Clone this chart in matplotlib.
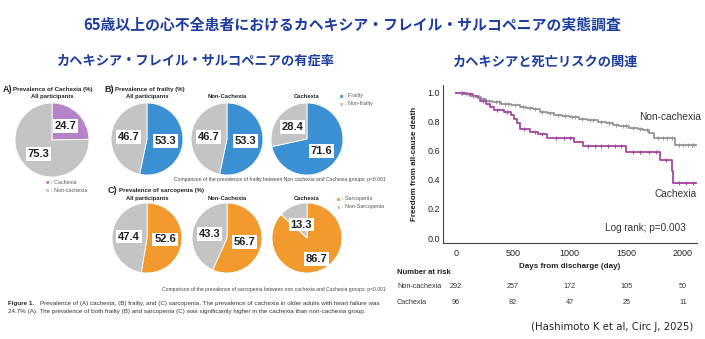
import numpy as np
import matplotlib

matplotlib.use("Agg")
import matplotlib.pyplot as plt
from matplotlib.transforms import blended_transform_factory

W, H = 705, 339

TITLE = "65歳以上の心不全患者におけるカヘキシア・フレイル・サルコペニアの実態調査"
SUB_LEFT = "カヘキシア・フレイル・サルコペニアの有症率"
SUB_RIGHT = "カヘキシアと死亡リスクの関連"
CITATION = "(Hashimoto K et al, Circ J, 2025)"

# pie data (%)
cachexia_share = [24.7, 75.3]
group_names = ["All participants", "Non-Cachexia", "Cachexia"]
frailty = [53.3, 53.3, 71.6]
sarcopenia = [52.6, 56.7, 86.7]

# Kaplan-Meier curves (day, survival)
non_t = [0, 60, 120, 170, 220, 260, 320, 400, 480, 560, 620, 680, 740, 800, 860,
         930, 1000, 1080, 1150, 1250, 1320, 1380, 1440, 1520, 1600, 1650, 1700,
         1740, 1930, 2110]
non_s = [1.0, 0.99, 0.98, 0.97, 0.955, 0.945, 0.935, 0.925, 0.915, 0.905, 0.895,
         0.885, 0.87, 0.86, 0.85, 0.84, 0.83, 0.82, 0.81, 0.80, 0.79, 0.78, 0.77,
         0.76, 0.75, 0.74, 0.72, 0.69, 0.64, 0.64]
cax_t = [0, 100, 150, 190, 215, 260, 300, 330, 420, 480, 510, 540, 565, 655, 720,
         800, 1040, 1120, 1500, 1800, 1900, 1915, 2110]
cax_s = [1.0, 0.99, 0.98, 0.965, 0.94, 0.92, 0.90, 0.88, 0.865, 0.845, 0.82, 0.79,
         0.75, 0.73, 0.715, 0.69, 0.66, 0.63, 0.595, 0.535, 0.46, 0.38, 0.38]
non_cens = [40, 90, 150, 200, 250, 290, 350, 380, 430, 460, 520, 590, 650, 700, 760,
            830, 900, 960, 1020, 1050, 1110, 1180, 1210, 1280, 1350, 1410, 1470, 1500,
            1560, 1620, 1680, 1780, 1820, 1860, 1900, 1960, 2000, 2040, 2080, 2100]
cax_cens = [50, 120, 240, 360, 450, 600, 700, 760, 880, 950, 1000, 1160, 1220, 1280,
            1340, 1400, 1450, 1560, 1620, 1700, 1760, 1850, 1960, 2030, 2090]

risk_days = [0, 500, 1000, 1500, 2000]
risk_non = [292, 257, 172, 105, 50]
risk_cax = [96, 82, 47, 25, 11]

BLUE_TXT = "#1d3d9e"
GRAY = "#c4c4c4"
PURPLE = "#b584c8"
FR_BLUE = "#3b8fd3"
ORANGE = "#f29a2e"
KM_GRAY = "#959595"
KM_PURPLE = "#a5479f"

plt.rcParams["font.family"] = ["Liberation Sans", "DejaVu Sans"]
JP = ["Noto Sans CJK JP", "DejaVu Sans"]

fig = plt.figure(figsize=(W / 100, H / 100), dpi=100)


def fy(y):
    return 1 - y / H


def t(x, y, s, **kw):
    fig.text(x / W, fy(y), s, **kw)


def pie_at(cx, cy, r, vals, colors, dist=0.52):
    ax = fig.add_axes([(cx - r) / W, 1 - (cy + r) / H, 2 * r / W, 2 * r / H])
    _, _, autos = ax.pie(vals, colors=colors, startangle=90, counterclock=False,
                         autopct=lambda p: f"{p:.1f}", pctdistance=dist,
                         wedgeprops=dict(edgecolor="white", linewidth=0.6),
                         textprops=dict(fontsize=8, fontweight="bold", color="#222222"))
    for a in autos:
        a.set_bbox(dict(facecolor="white", edgecolor="none", pad=1.3))
    ax.set_xlim(-1, 1)
    ax.set_ylim(-1, 1)
    return autos


# titles
t(352, 25, TITLE, family=JP, fontsize=10.7, fontweight="bold", color=BLUE_TXT,
  ha="center", va="center")
t(196, 61, SUB_LEFT, family=JP, fontsize=9.5, fontweight="bold", color=BLUE_TXT,
  ha="center", va="center")
t(546, 62, SUB_RIGHT, family=JP, fontsize=9.5, fontweight="bold", color=BLUE_TXT,
  ha="center", va="center")

# ---- left panel: prevalence pies ----
hdr = dict(fontweight="bold", color="#222222", va="center")
t(3, 89, "A)", fontsize=6.5, **hdr)
t(13, 89, "Prevalence of Cachexia (%)", fontsize=4.4, **hdr)
t(52, 97, "All participants", fontsize=4.2, ha="center", **hdr)
pie_at(52, 140, 37, cachexia_share, [PURPLE, GRAY])
t(46, 182, "■", fontsize=4, color=PURPLE, va="center")
t(51, 182, ": Cachexia", fontsize=3.9, color="#555555", va="center")
t(46, 190, "■", fontsize=4, color=GRAY, va="center")
t(51, 190, ": Non-cachexia", fontsize=3.9, color="#555555", va="center")

pie_x = [147, 227, 307]
t(104, 89, "B)", fontsize=6.5, **hdr)
t(115, 89, "Prevalence of frailty (%)", fontsize=4.4, **hdr)
for cx, name, v in zip(pie_x, group_names, frailty):
    t(cx, 97, name, fontsize=4.2, ha="center", **hdr)
    pie_at(cx, 139, 36, [v, round(100 - v, 1)], [FR_BLUE, GRAY])
t(340, 96, "■", fontsize=4, color=FR_BLUE, va="center")
t(345, 96, ": Frailty", fontsize=3.9, color="#555555", va="center")
t(340, 104, "■", fontsize=4, color=GRAY, va="center")
t(345, 104, ": Non-frailty", fontsize=3.9, color="#555555", va="center")
t(386, 179, "Comparison of the prevalence of frailty between Non cachexia and Cachexia groups: p<0.001",
  fontsize=3.65, color="#444444", ha="right", va="center")

t(108, 191, "C)", fontsize=6.5, **hdr)
t(119, 191, "Prevalence of sarcopenia (%)", fontsize=4.4, **hdr)
for i, (cx, name, v) in enumerate(zip(pie_x, group_names, sarcopenia)):
    t(cx, 199, name, fontsize=4.2, ha="center", **hdr)
    autos = pie_at(cx, 238, 35, [v, round(100 - v, 1)], [ORANGE, GRAY])
    if i == 2:
        x0, y0 = autos[0].get_position()
        autos[0].set_position((x0 * 1.25, y0 * 1.25))
        x1, y1 = autos[1].get_position()
        autos[1].set_position((x1 * 0.8, y1 * 0.8))
t(337, 199, "■", fontsize=4, color=ORANGE, va="center")
t(342, 199, ": Sarcopenia", fontsize=3.9, color="#555555", va="center")
t(337, 207, "■", fontsize=4, color=GRAY, va="center")
t(342, 207, ": Non-Sarcopenia", fontsize=3.9, color="#555555", va="center")
t(386, 290, "Comparison of the prevalence of sarcopenia between non cachexia and Cachexia groups: p<0.001",
  fontsize=3.65, color="#444444", ha="right", va="center")

t(8, 303, "Figure 1.", fontsize=4.5, fontweight="bold", color="#222222", va="center")
t(40, 303, "Prevalence of (A) cachexia, (B) frailty, and (C) sarcopenia. The prevalence of cachexia "
  "in older adults with heart failure was", fontsize=4.5, color="#333333", va="center")
t(8, 312, "24.7% (A). The prevalence of both frailty (B) and sarcopenia (C) was significantly higher "
  "in the cachexia than non-cachexia group.", fontsize=4.5, color="#333333", va="center")

# ---- right panel: Kaplan-Meier ----
ax = fig.add_axes([443 / W, 1 - 243 / H, 254 / W, 158 / H])
ax.step(non_t, non_s, where="post", color=KM_GRAY, lw=1.3)
ax.step(cax_t, cax_s, where="post", color=KM_PURPLE, lw=1.3)
for times, surv, cens, col in [(non_t, non_s, non_cens, KM_GRAY),
                                (cax_t, cax_s, cax_cens, KM_PURPLE)]:
    idx = np.searchsorted(times, cens, side="right") - 1
    ax.plot(cens, np.array(surv)[idx], "+", ms=3.0, mew=0.7, color=col)

ax.set_xlim(-115, 2123)
ax.set_ylim(-0.034, 1.053)
ax.set_xticks(risk_days)
ax.set_yticks([0, 0.2, 0.4, 0.6, 0.8, 1.0])
ax.set_yticklabels(["0.0", "0.2", "0.4", "0.6", "0.8", "1.0"])
ax.tick_params(length=0, labelsize=6.5, colors="#222222", pad=2)
ax.tick_params(axis="x", pad=4)
for s in ["top", "right"]:
    ax.spines[s].set_visible(False)
for s in ["left", "bottom"]:
    ax.spines[s].set_color("#444444")
    ax.spines[s].set_linewidth(0.8)

ax.text(1890, 0.83, "Non-cachexia", fontsize=7.3, color="#333333", ha="center", va="center")
ax.text(1935, 0.30, "Cachexia", fontsize=7.3, color="#333333", ha="center", va="center")
ax.text(1670, 0.07, "Log rank; p=0.003", fontsize=7.2, color="#333333", ha="center", va="center")

t(415, 164, "Freedom from all-cause death", fontsize=5.8, fontweight="bold", rotation=90,
  ha="center", va="center", color="#222222")
t(570, 267, "Days from discharge (day)", fontsize=5.8, fontweight="bold",
  ha="center", va="center", color="#222222")

trans = blended_transform_factory(ax.transData, fig.transFigure)
t(397, 272, "Number at risk", fontsize=5.5, fontweight="bold", va="center", color="#222222")
t(397, 287, "Non-cachexia", fontsize=5.2, va="center", color="#333333")
t(397, 302, "Cachexia", fontsize=5.2, va="center", color="#333333")
for d, a, b in zip(risk_days, risk_non, risk_cax):
    ax.text(d, fy(287), str(a), transform=trans, fontsize=5.2, ha="center", va="center",
            color="#333333", clip_on=False)
    ax.text(d, fy(302), str(b), transform=trans, fontsize=5.2, ha="center", va="center",
            color="#333333", clip_on=False)

t(693, 327, CITATION, family=["DejaVu Sans"], fontsize=7.3, color="#222222",
  ha="right", va="center")

fig.savefig("out.png", dpi=100)
